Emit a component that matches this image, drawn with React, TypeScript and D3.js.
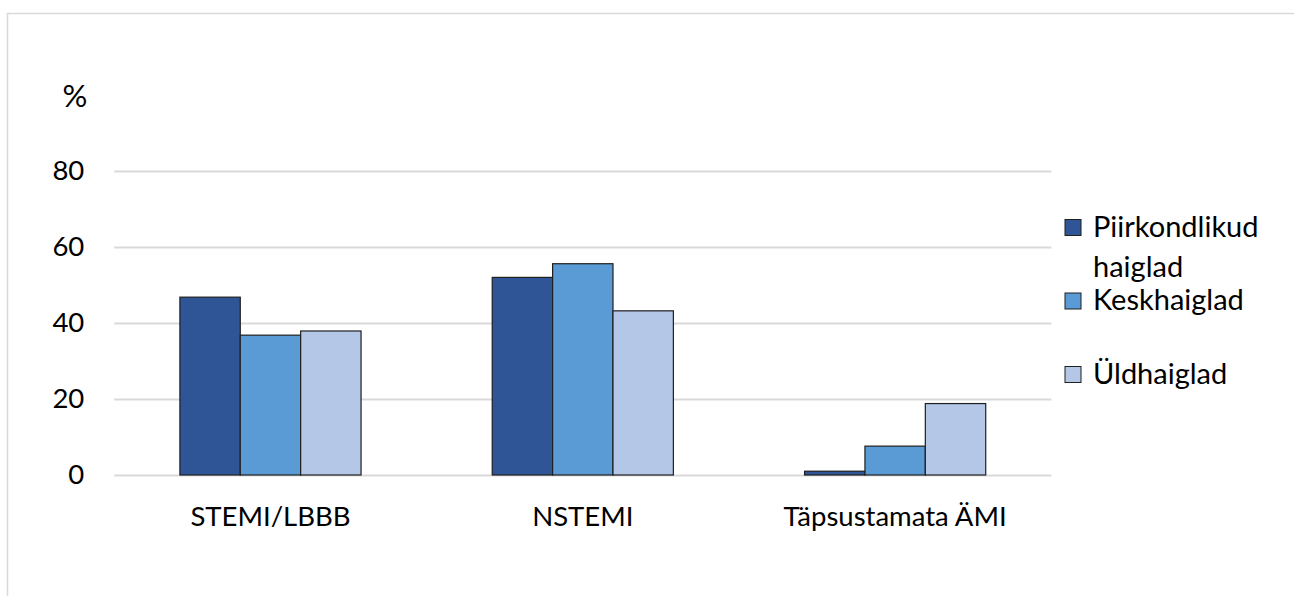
import React, { useEffect, useRef } from "react";
import * as d3 from "d3";

const categories = ["STEMI/LBBB", "NSTEMI", "Täpsustamata ÄMI"];
const seriesNames = ["Piirkondlikud haiglad", "Keskhaiglad", "Üldhaiglad"];
const seriesColors = ["#2F5597", "#5B9BD5", "#B4C7E7"];
const piirkondlikud = [46.8, 52.0, 1.0];
const keskhaiglad = [36.8, 55.6, 7.6];
const yldhaiglad = [37.9, 43.2, 18.8];
const yTicks = [0, 20, 40, 60, 80];
const yTitle = "%";

const W = 1294, H = 596;
const FONT = "Lato, 'Open Sans', sans-serif";

export default function App() {
    const ref = useRef<SVGSVGElement>(null);

    useEffect(() => {
        document.body.style.margin = "0";
        const svg = d3.select(ref.current);
        svg.selectAll("*").remove();

        const margin = { top: 171, left: 114.3, right: 1051.3, bottom: 475 };

        // outer frame (only left and top edges visible)
        svg.append("path")
            .attr("d", `M7.5,${H} V13.5 H${W}`)
            .attr("fill", "none")
            .attr("stroke", "#d9d9d9")
            .attr("stroke-width", 1.5);

        const x0 = d3.scaleBand()
            .domain(categories)
            .range([margin.left, margin.right])
            .paddingInner(0.42)
            .paddingOuter(0.21);

        const x1 = d3.scaleBand()
            .domain(seriesNames)
            .range([0, x0.bandwidth()]);

        const y = d3.scaleLinear()
            .domain([0, 80])
            .range([margin.bottom, margin.top]);

        // Y axis + gridlines
        const yAxis = svg.append("g")
            .attr("transform", "translate(" + margin.left + ",0)")
            .call(d3.axisLeft(y).tickValues(yTicks).tickSize(-(margin.right - margin.left)).tickPadding(30));
        yAxis.select(".domain").remove();
        yAxis.selectAll(".tick line").attr("stroke", "#d9d9d9").attr("stroke-width", 1.8);
        yAxis.selectAll("text")
            .attr("font-family", FONT)
            .attr("font-size", 27.5)
            .attr("fill", "#000");

        svg.append("text")
            .attr("x", 75)
            .attr("y", 107)
            .attr("text-anchor", "middle")
            .attr("font-family", FONT)
            .attr("font-size", 31)
            .text(yTitle);

        // bars
        const values = [piirkondlikud, keskhaiglad, yldhaiglad];
        const data = categories.flatMap((c, ci) =>
            seriesNames.map((s, si) => ({ cat: c, series: s, value: values[si][ci], color: seriesColors[si] })));

        svg.selectAll("rect.bar")
            .data(data)
            .enter()
            .append("rect")
            .attr("class", "bar")
            .attr("x", d => x0(d.cat)! + x1(d.series)!)
            .attr("y", d => y(d.value))
            .attr("width", x1.bandwidth())
            .attr("height", d => y(0) - y(d.value))
            .attr("fill", d => d.color)
            .attr("stroke", "#1f1f1f")
            .attr("stroke-width", 1.2);

        // X axis labels
        const xAxis = svg.append("g")
            .attr("transform", "translate(0," + margin.bottom + ")")
            .call(d3.axisBottom(x0).tickSize(0).tickPadding(31));
        xAxis.select(".domain").remove();
        xAxis.selectAll("text")
            .attr("font-family", FONT)
            .attr("font-size", 27.5)
            .attr("fill", "#000");

        // legend
        const legend = svg.append("g").attr("transform", "translate(1065,0)");
        seriesNames.forEach((name, i) => {
            const cy = 227.5 + i * 73.5;
            legend.append("rect")
                .attr("x", 0)
                .attr("y", cy - 8)
                .attr("width", 16)
                .attr("height", 16)
                .attr("fill", seriesColors[i])
                .attr("stroke", "#1f1f1f")
                .attr("stroke-width", 1);
            legend.append("text")
                .attr("x", 28)
                .attr("y", cy + 9)
                .attr("font-family", FONT)
                .attr("font-size", 29)
                .text(name)
                .call(wrapText, 195);
        });
    }, []);

    return <svg ref={ref} width={W} height={H} style={{ display: "block", background: "#fff" }} />;
}

function wrapText(text, width) {
    text.each(function () {
        const t = d3.select(this);
        const words = t.text().split(/\s+/).reverse();
        const x = t.attr("x");
        let line: string[] = [];
        let word;
        let tspan = t.text(null).append("tspan").attr("x", x);
        while ((word = words.pop())) {
            line.push(word);
            tspan.text(line.join(" "));
            if (tspan.node().getComputedTextLength() > width && line.length > 1) {
                line.pop();
                tspan.text(line.join(" "));
                line = [word];
                tspan = t.append("tspan").attr("x", x).attr("dy", 40).text(word);
            }
        }
    });
}
